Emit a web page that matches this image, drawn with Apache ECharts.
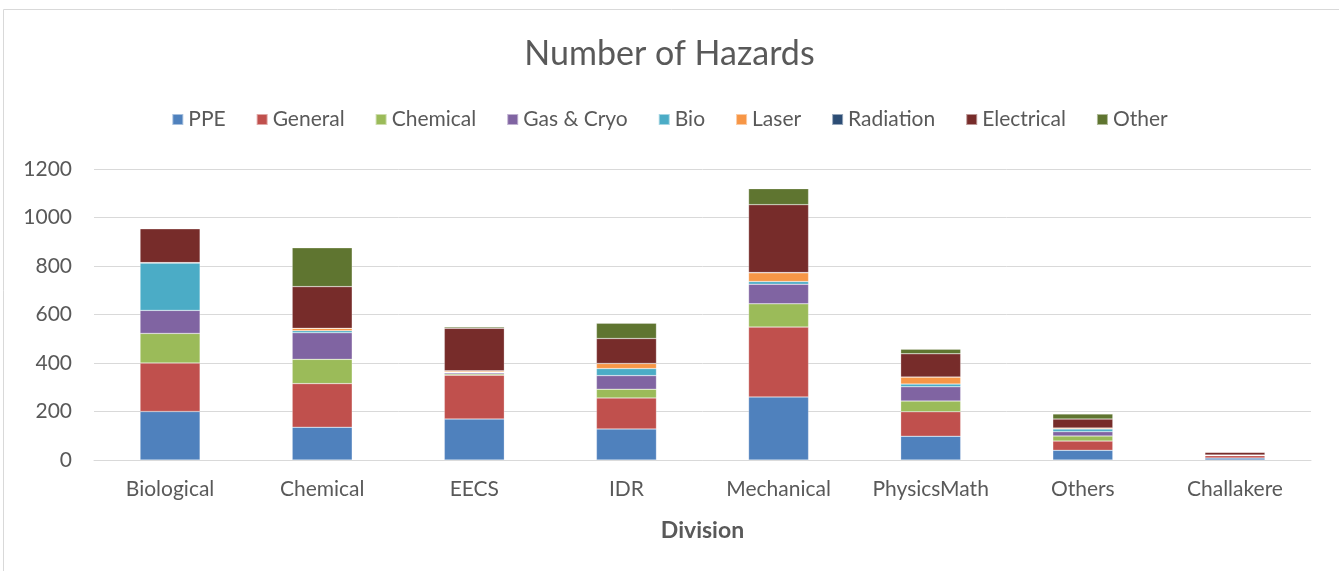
<!DOCTYPE html>
<html>
<head>
<meta charset="utf-8">
<script src="https://cdn.jsdelivr.net/npm/echarts@6/dist/echarts.min.js"></script>
<style>
  html, body { margin: 0; padding: 0; background: #fff; }
  #chart { width: 1339px; height: 571px; }
</style>
</head>
<body>
<div id="chart"></div>
<script>
var divisions = ['Biological', 'Chemical', 'EECS', 'IDR', 'Mechanical', 'PhysicsMath', 'Others', 'Challakere'];
var yTicks = [0, 200, 400, 600, 800, 1000, 1200];

var ppe        = [200, 135, 169, 128, 260,  98, 40,  8];
var general    = [200, 180, 181, 128, 288, 101, 38, 10];
var chemical   = [122, 100,   5,  36,  96,  44, 21,  1];
var gasCryo    = [ 95, 110,   5,  56,  81,  59, 18,  2];
var bio        = [195,   8,   2,  29,  11,  11, 11,  0];
var laser      = [  2,  10,   5,  21,  36,  29,  4,  0];
var radiation  = [  0,   0,   1,   0,   1,   0,  0,  0];
var electrical = [140, 172, 175, 103, 280,  96, 37, 11];
var other      = [  0, 160,   5,  63,  66,  19, 21,  0];

var seriesNames = ['PPE', 'General', 'Chemical', 'Gas & Cryo', 'Bio', 'Laser', 'Radiation', 'Electrical', 'Other'];
var seriesData = [ppe, general, chemical, gasCryo, bio, laser, radiation, electrical, other];
var colors = ['#4F81BD', '#C0504D', '#9BBB59', '#8064A2', '#4BACC6', '#F79646', '#2C4D75', '#772C2A', '#5F7530'];

var font = 'Lato, "Open Sans", sans-serif';
var textColor = '#595959';

var myChart = echarts.init(document.getElementById('chart'));

var series = seriesNames.map(function (name, i) {
    return {
        name: name,
        type: 'bar',
        stack: 'total',
        data: seriesData[i],
        barWidth: 60,
        itemStyle: {
            color: colors[i],
            borderColor: 'rgba(255,255,255,0.5)',
            borderWidth: 0.5
        }
    };
});

var option = {
    animation: false,
    color: colors,
    title: {
        text: 'Number of Hazards',
        left: 'center',
        top: 32,
        textStyle: {
            fontFamily: font,
            fontWeight: 'normal',
            fontSize: 34,
            color: textColor
        }
    },
    legend: {
        data: seriesNames,
        top: 104,
        left: 'center',
        icon: 'rect',
        itemWidth: 11,
        itemHeight: 11,
        itemGap: 30,
        textStyle: {
            fontFamily: font,
            fontSize: 21,
            color: textColor
        }
    },
    grid: {
        left: 94,
        right: 28,
        top: 169,
        bottom: 111,
        containLabel: false
    },
    xAxis: {
        type: 'category',
        data: divisions,
        name: 'Division',
        nameLocation: 'middle',
        nameGap: 59,
        nameTextStyle: {
            fontFamily: font,
            fontSize: 23,
            fontWeight: 'bold',
            color: textColor
        },
        axisLine: { lineStyle: { color: '#D9D9D9' } },
        axisTick: { show: false },
        axisLabel: {
            interval: 0,
            fontFamily: font,
            fontSize: 21,
            color: textColor,
            margin: 19
        }
    },
    yAxis: {
        type: 'value',
        min: yTicks[0],
        max: yTicks[yTicks.length - 1],
        interval: yTicks[1] - yTicks[0],
        axisLine: { show: false },
        axisTick: { show: false },
        axisLabel: {
            fontFamily: font,
            fontSize: 21,
            color: textColor,
            margin: 22,
            formatter: function (v) { return String(v); }
        },
        splitLine: { lineStyle: { color: '#D9D9D9', width: 1 } }
    },
    graphic: [{
        type: 'rect',
        shape: { x: 3.5, y: 9.5, width: 1340, height: 570 },
        style: { fill: 'none', stroke: '#D9D9D9', lineWidth: 1 },
        silent: true
    }],
    series: series
};

myChart.setOption(option, true);
</script>
</body>
</html>
